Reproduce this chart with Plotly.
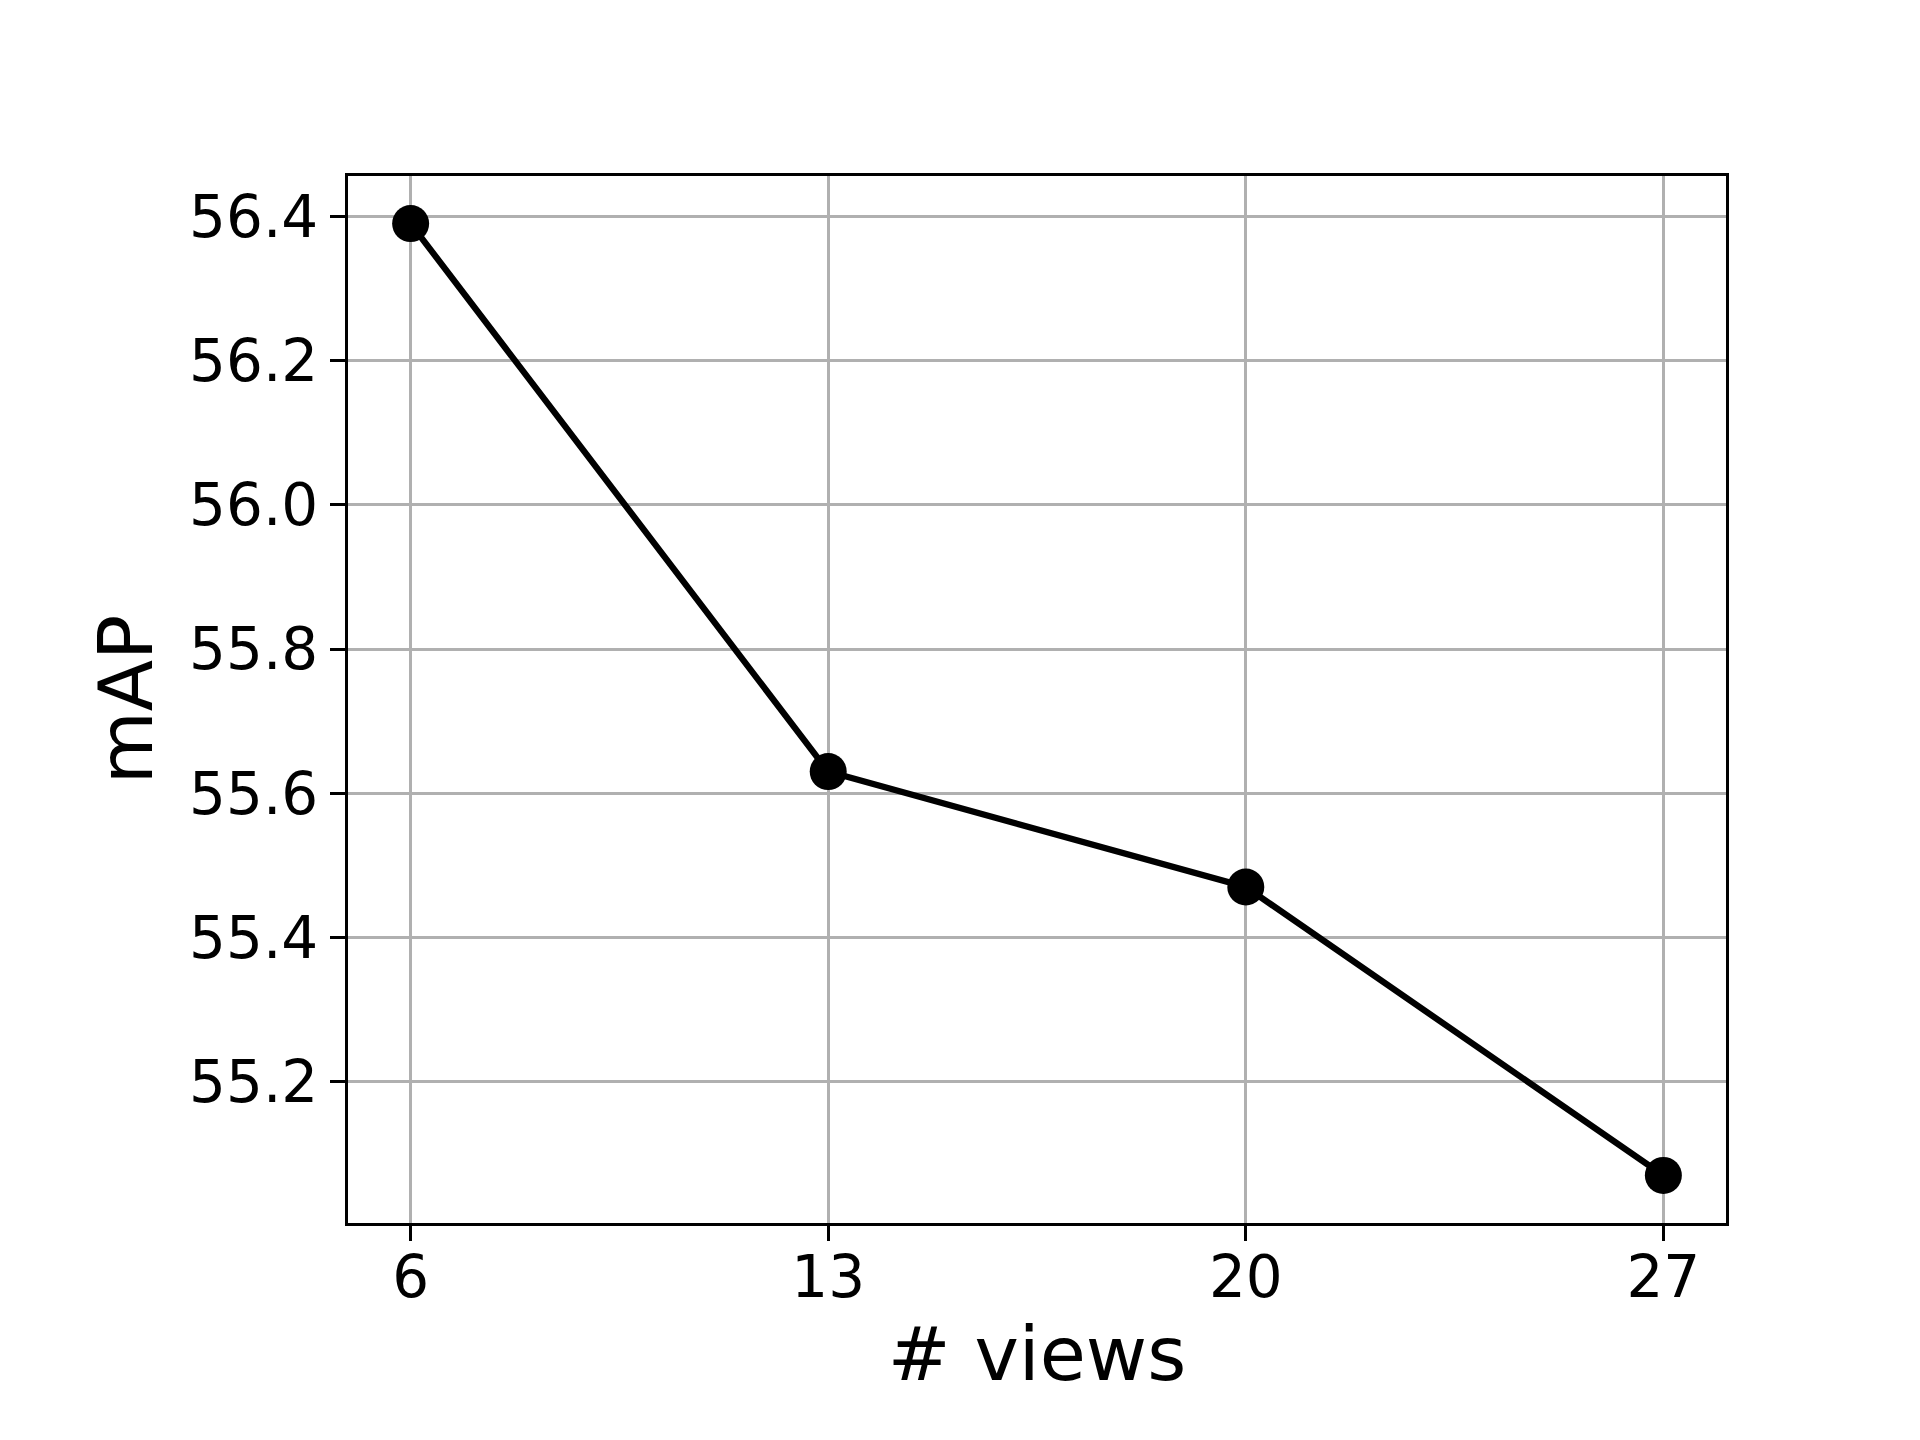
import plotly.graph_objects as go

views = [6, 13, 20, 27]
map_values = [56.39, 55.63, 55.47, 55.07]
x_ticks = [6, 13, 20, 27]
y_ticks = [55.2, 55.4, 55.6, 55.8, 56.0, 56.2, 56.4]

fig = go.Figure()
fig.add_trace(go.Scatter(
    x=views, y=map_values, mode="lines+markers",
    line=dict(color="black", width=6.3),
    marker=dict(color="black", size=37),
    showlegend=False,
))

font = "DejaVu Sans"
axis_common = dict(
    showline=True, linecolor="black", linewidth=3.3, mirror=True,
    ticks="outside", ticklen=15, tickwidth=3.3, tickcolor="black",
    showgrid=True, gridcolor="#b0b0b0", gridwidth=3.3,
    zeroline=False,
    tickfont=dict(family=font, size=58, color="black"),
)

fig.update_xaxes(
    range=[4.95, 28.05], tickvals=x_ticks, ticktext=[str(v) for v in x_ticks],
    ticklabelstandoff=-14,
    title=dict(text="# views", font=dict(family=font, size=75, color="black"), standoff=18),
    **axis_common,
)
fig.update_yaxes(
    range=[55.004, 56.456], tickvals=y_ticks, tickformat=".1f",
    title=dict(text="mAP", font=dict(family=font, size=75, color="black"), standoff=12),
    **axis_common,
)

fig.update_layout(
    width=1920, height=1440,
    margin=dict(l=340, r=202, t=168, b=225, autoexpand=False),
    paper_bgcolor="white", plot_bgcolor="white",
    font=dict(family=font),
)

fig.write_html("out.html")
